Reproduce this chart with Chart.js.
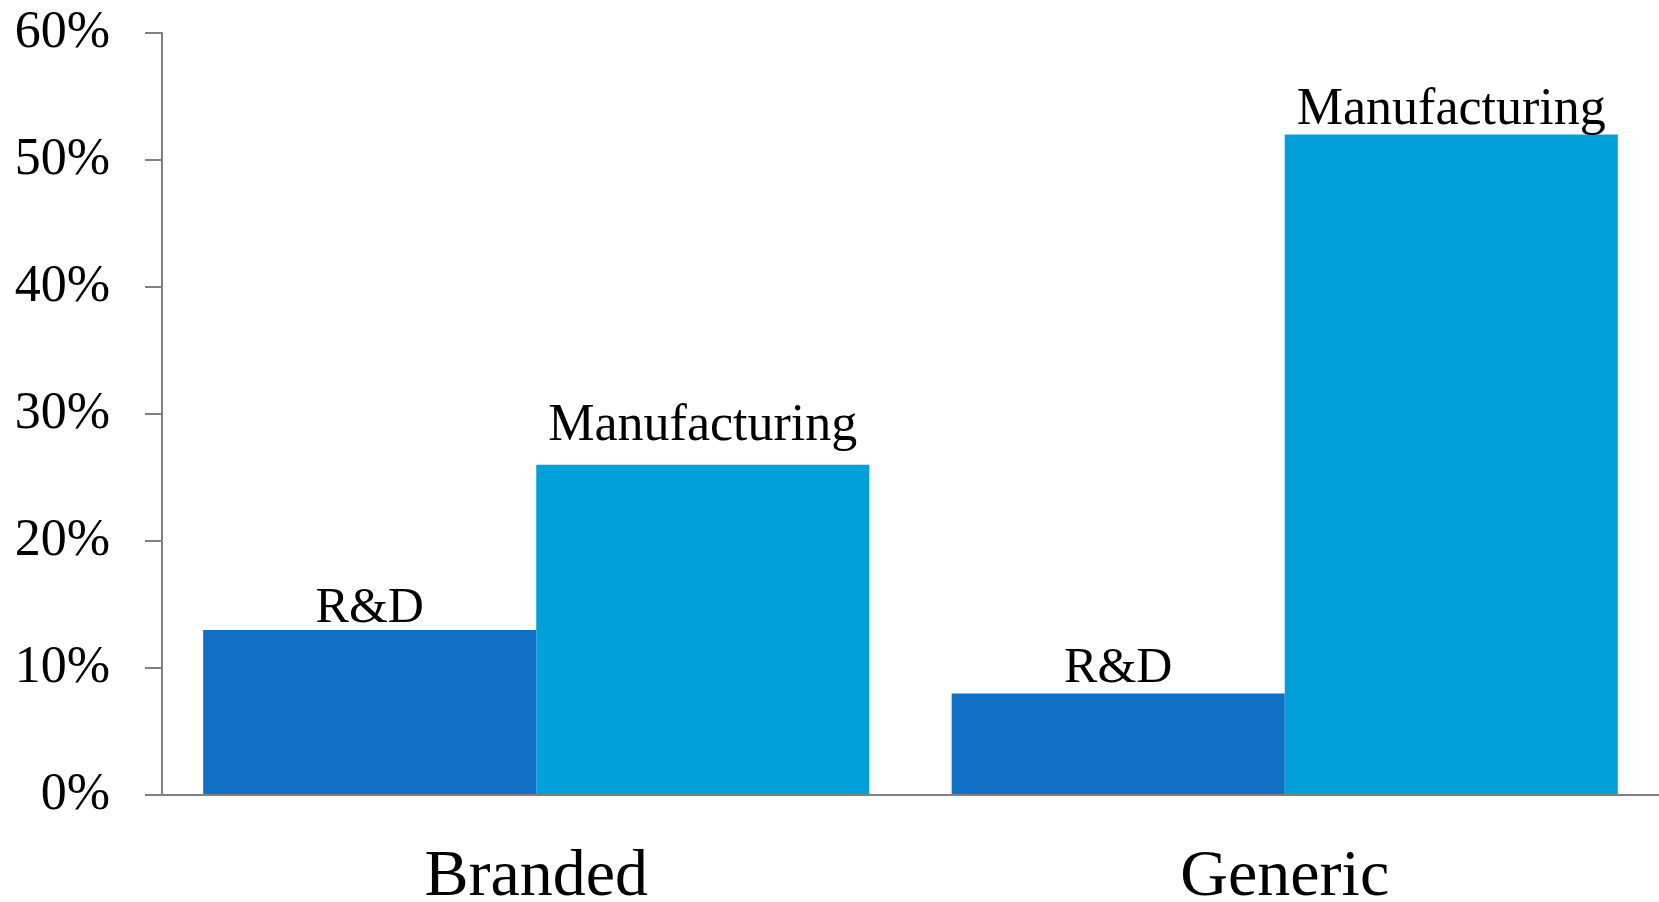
<!DOCTYPE html>
<html>
<head>
<meta charset="utf-8">
<script src="https://cdn.jsdelivr.net/npm/chart.js@4"></script>
<style>
  html, body { margin: 0; padding: 0; background: #fff; }
  #wrap { width: 1659px; height: 902px; }
</style>
</head>
<body>
<div id="wrap"><canvas id="grafico" width="1659" height="902"></canvas></div>
<script>
// datos del grafico
const categorias = ['Branded', 'Generic'];
const series = ['R&D', 'Manufacturing'];
const valoresRD = [13, 8];
const valoresManufactura = [26, 52];
const marcasEje = [0, 10, 20, 30, 40, 50, 60];

const fuente = "'Liberation Serif', 'DejaVu Serif', serif";
const gris = '#808080';

// etiquetas encima de cada barra con el nombre de la serie
const etiquetasBarras = {
  id: 'etiquetasBarras',
  afterDatasetsDraw(chart, args, opts) {
    const ctx = chart.ctx;
    ctx.save();
    ctx.fillStyle = '#000';
    ctx.textAlign = 'center';
    ctx.textBaseline = 'alphabetic';
    chart.data.datasets.forEach((ds, i) => {
      ctx.font = opts.tamanos[i] + 'px ' + fuente;
      chart.getDatasetMeta(i).data.forEach((barra, j) => {
        ctx.fillText(ds.label, barra.x, barra.y - opts.separacion[i][j]);
      });
    });
    ctx.restore();
  }
};

const ctx = document.getElementById('grafico').getContext('2d');
const grafico = new Chart(ctx, {
  type: 'bar',
  data: {
    labels: categorias,
    datasets: [
      {
        label: series[0],
        data: valoresRD,
        backgroundColor: 'rgb(16, 112, 198)',
        borderWidth: 0
      },
      {
        label: series[1],
        data: valoresManufactura,
        backgroundColor: 'rgb(0, 160, 218)',
        borderWidth: 0
      }
    ]
  },
  options: {
    responsive: false,
    animation: false,
    layout: { padding: 0 },
    categoryPercentage: 0.89,
    barPercentage: 1.0,
    plugins: {
      legend: { display: false },
      tooltip: { enabled: false },
      etiquetasBarras: {
        tamanos: [50, 52],
        separacion: [[8, 11], [25, 11]]
      }
    },
    scales: {
      x: {
        grid: { display: false, drawTicks: false },
        border: { display: true, color: gris, width: 2 },
        ticks: {
          color: '#000',
          font: { family: fuente, size: 66 },
          padding: 43
        },
        afterFit(escala) { escala.height = 107; }
      },
      y: {
        min: 0,
        max: 60,
        afterBuildTicks(escala) {
          escala.ticks = marcasEje.map(v => ({ value: v }));
        },
        grid: {
          drawOnChartArea: false,
          drawTicks: true,
          tickLength: 17,
          color: gris,
          lineWidth: 2
        },
        border: { display: true, color: gris, width: 2 },
        ticks: {
          color: '#000',
          font: { family: fuente, size: 52 },
          padding: 35,
          callback: v => v + '%'
        },
        afterFit(escala) {
          escala.width = 162;
          // el margen superior lo fija la primera marca, no la etiqueta
          escala.paddingTop = 33;
          escala.paddingBottom = 0;
        }
      }
    }
  },
  plugins: [etiquetasBarras]
});
</script>
</body>
</html>
